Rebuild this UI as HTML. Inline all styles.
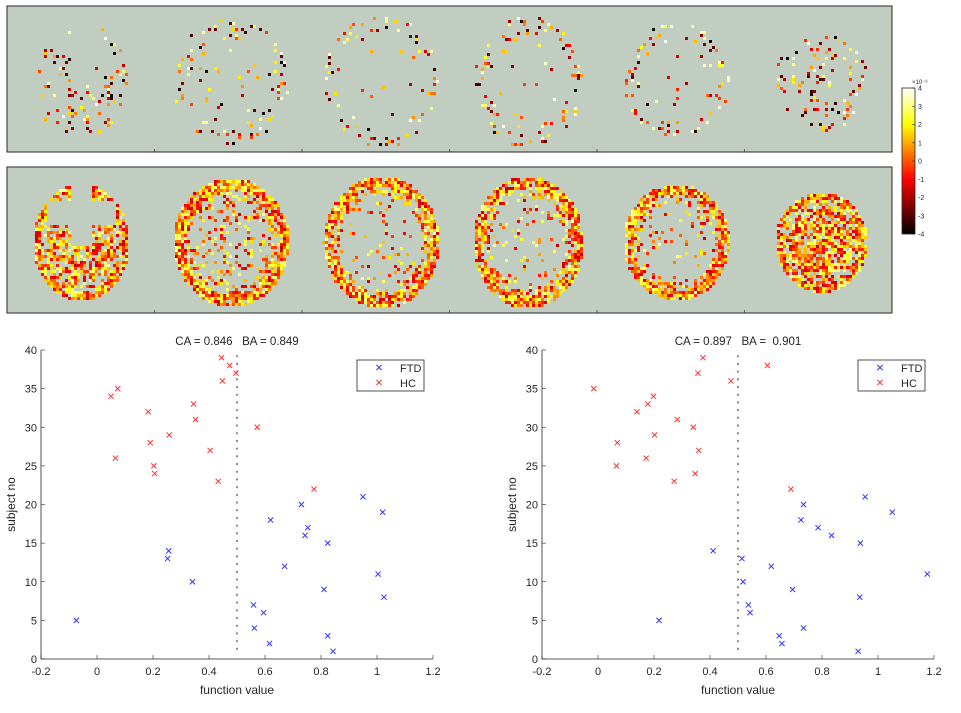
<!DOCTYPE html>
<html><head><meta charset="utf-8"><style>
body{margin:0;background:#fff;font-family:"Liberation Sans",sans-serif}
svg{display:block}
text{font-family:"Liberation Sans",sans-serif;fill:#262626;white-space:pre}
</style></head><body>
<svg id="s" width="961" height="713">
<defs><linearGradient id="hot" x1="0" y1="1" x2="0" y2="0">
<stop offset="0" stop-color="#000"/><stop offset="0.375" stop-color="#f00"/><stop offset="0.75" stop-color="#ff0"/><stop offset="1" stop-color="#fff"/></linearGradient></defs>
<g id="brains"></g>
<g>
<rect x="902" y="88" width="13" height="146" fill="url(#hot)" stroke="#262626" stroke-width="0.8"/>
<text x="912" y="84" font-size="6">×10⁻³</text>
<g id="cbt" font-size="7"></g>
</g>
<g id="p1"></g>
<g id="p2"></g>
</svg>
<script>
const NS="http://www.w3.org/2000/svg";
function mk(p,t,a){const e=document.createElementNS(NS,t);for(const k in a)e.setAttribute(k,a[k]);p.appendChild(e);return e;}

// ---- data ----
const yTicks=[0,5,10,15,20,25,30,35,40];
const xTicks=[-0.2,0,0.2,0.4,0.6,0.8,1,1.2];
const xTickLabels=['-0.2','0','0.2','0.4','0.6','0.8','1','1.2'];
const hcSubjects=[39,38,37,36,35,34,33,32,31,30,29,28,27,26,25,24,23,22];
const ftdSubjects=[21,20,19,18,17,16,15,14,13,12,11,10,9,8,7,6,5,4,3,2,1];
const hcLeft=[0.445,0.474,0.496,0.448,0.074,0.05,0.345,0.183,0.352,0.572,0.258,0.19,0.404,0.066,0.203,0.206,0.433,0.775];
const ftdLeft=[0.95,0.73,1.02,0.62,0.753,0.743,0.824,0.256,0.252,0.67,1.004,0.341,0.811,1.025,0.559,0.595,-0.074,0.562,0.824,0.616,0.843];
const hcRight=[0.375,0.605,0.357,0.475,-0.015,0.198,0.178,0.139,0.283,0.34,0.202,0.069,0.36,0.172,0.066,0.347,0.272,0.689];
const ftdRight=[0.954,0.734,1.051,0.725,0.786,0.834,0.937,0.411,0.514,0.619,1.176,0.518,0.695,0.935,0.537,0.543,0.218,0.734,0.647,0.657,0.929];
const cbTicks=[4,3,2,1,0,-1,-2,-3,-4];

const cbt=document.getElementById('cbt');
cbTicks.forEach(v=>{const y=234-(v+4)/8*146;
const l=mk(cbt,'line',{x1:912,x2:915,y1:y,y2:y,stroke:'#262626','stroke-width':0.6});

const t=mk(cbt,'text',{x:918,y:y+2.5});t.textContent=v;
});

// brain panels (decorative texture)
const bg=document.getElementById('brains');
let seed=12345;function rnd(){seed=(seed*1103515245+12345)&0x7fffffff;return seed/0x7fffffff;}
function hot(v){let r,g,b;if(v<0.375){r=v/0.375;g=0;b=0}else if(v<0.75){r=1;g=(v-0.375)/0.375;b=0}else{r=1;g=1;b=(v-0.75)/0.25}
return `rgb(${Math.round(r*255)},${Math.round(g*255)},${Math.round(b*255)})`;}
const centers=[80,230,380,527,675,820];
const radX=[48,58,58,55,53,46],radY=[58,64,66,66,58,50];
const innerP=[0.75,0.25,0.08,0.1,0.12,0.85];
[[6,0.14],[167,0.9]].forEach(([top,dens],pi)=>{
 const pr=mk(bg,'rect',{x:7,y:top,width:885,height:146,fill:'#c1cdc1',stroke:'#262626','stroke-width':1});
 
 for(let i=1;i<6;i++){const x=7+i*885/6; mk(bg,'line',{x1:x,x2:x,y1:top+146,y2:top+143,stroke:'#262626','stroke-width':0.6});}
 centers.forEach((cx,bi)=>{const cy=top+74;const rx=radX[bi],ry=radY[bi];
  for(let x=cx-rx;x<cx+rx;x+=3)for(let y=cy-ry;y<cy+ry;y+=3){
   const d=((x-cx)/rx)**2+((y-cy)/ry)**2; if(d>1)continue;
   let p=dens; if(d<0.5) p*=innerP[bi]; else if(d<0.68)p*=0.55;
   if(bi==0&&Math.abs(x-cx)<10&&y<cy+5)continue;
   if(bi==0&&pi==1&&y<cy-10&&Math.abs(x-cx)>10&&Math.abs(x-cx)<34&&Math.abs(y-cy+30)<12)continue;
   if(rnd()<p)mk(bg,'rect',{x:x,y:y,width:3,height:3,fill:hot(pi?0.3+0.6*rnd()**1.1:rnd())});
  }});
});

function plot(gid,x0,hc,ftd,title,lx){
 const g=document.getElementById(gid);
 const X=v=>x0+(v+0.2)/1.4*392, Y=v=>659-v/40*309;
 const ax=mk(g,'path',{d:`M${X(-0.2)},${Y(40)}V${Y(0)}H${X(1.2)}`,fill:'none',stroke:'#262626','stroke-width':0.8});
 
 yTicks.forEach(v=>{mk(g,'line',{x1:X(-0.2),x2:X(-0.2)+4,y1:Y(v),y2:Y(v),stroke:'#262626','stroke-width':0.6});
  const t=mk(g,'text',{x:X(-0.2)-4,y:Y(v)+4,'font-size':11,'text-anchor':'end'});t.textContent=v;
  });
 xTicks.forEach((v,i)=>{mk(g,'line',{x1:X(v),x2:X(v),y1:Y(0),y2:Y(0)-4,stroke:'#262626','stroke-width':0.6});
  const t=mk(g,'text',{x:X(v),y:Y(0)+16,'font-size':11,'text-anchor':'middle'});t.textContent=xTickLabels[i];
  });
 const xt=mk(g,'text',{x:X(0.5),y:694,'font-size':12,'text-anchor':'middle'});xt.textContent='function value';
 
 const yt=mk(g,'text',{x:0,y:0,'font-size':12,'text-anchor':'middle',transform:`translate(${x0-26},${Y(20)}) rotate(-90)`});yt.textContent='subject no';
 
 const tt=mk(g,'text',{x:X(0.5),y:345,'font-size':11.5,'text-anchor':'middle'});tt.textContent=title;
 
 const th=mk(g,'line',{x1:X(0.5),x2:X(0.5),y1:Y(39.2),y2:Y(0.9),stroke:'#888','stroke-width':2.2,'stroke-dasharray':'0.1 7.6','stroke-linecap':'round'});
 
 function cross(x,y,c,n){const p=mk(g,'path',{d:`M${x-2.6},${y-2.6}L${x+2.6},${y+2.6}M${x-2.6},${y+2.6}L${x+2.6},${y-2.6}`,stroke:c,'stroke-width':1});
  }
 hc.forEach((v,i)=>cross(X(v),Y(hcSubjects[i]),'#f33','hc-point'));
 ftd.forEach((v,i)=>cross(X(v),Y(ftdSubjects[i]),'#33f','ftd-point'));
 const lg=mk(g,'g',{});
 mk(lg,'rect',{x:lx,y:360,width:67,height:31,fill:'#fff',stroke:'#262626','stroke-width':0.8});
 cross(lx+22,367.5,'#33f','legend-ftd-marker');cross(lx+22,382.5,'#f33','legend-hc-marker');
 const a=mk(lg,'text',{x:lx+43,y:372,'font-size':11});a.textContent='FTD';
 const b=mk(lg,'text',{x:lx+43,y:387,'font-size':11});b.textContent='HC';
}
plot('p1',41,hcLeft,ftdLeft,'CA = 0.846   BA = 0.849',357);
plot('p2',542,hcRight,ftdRight,'CA = 0.897   BA =  0.901',858);
</script>
</body></html>
